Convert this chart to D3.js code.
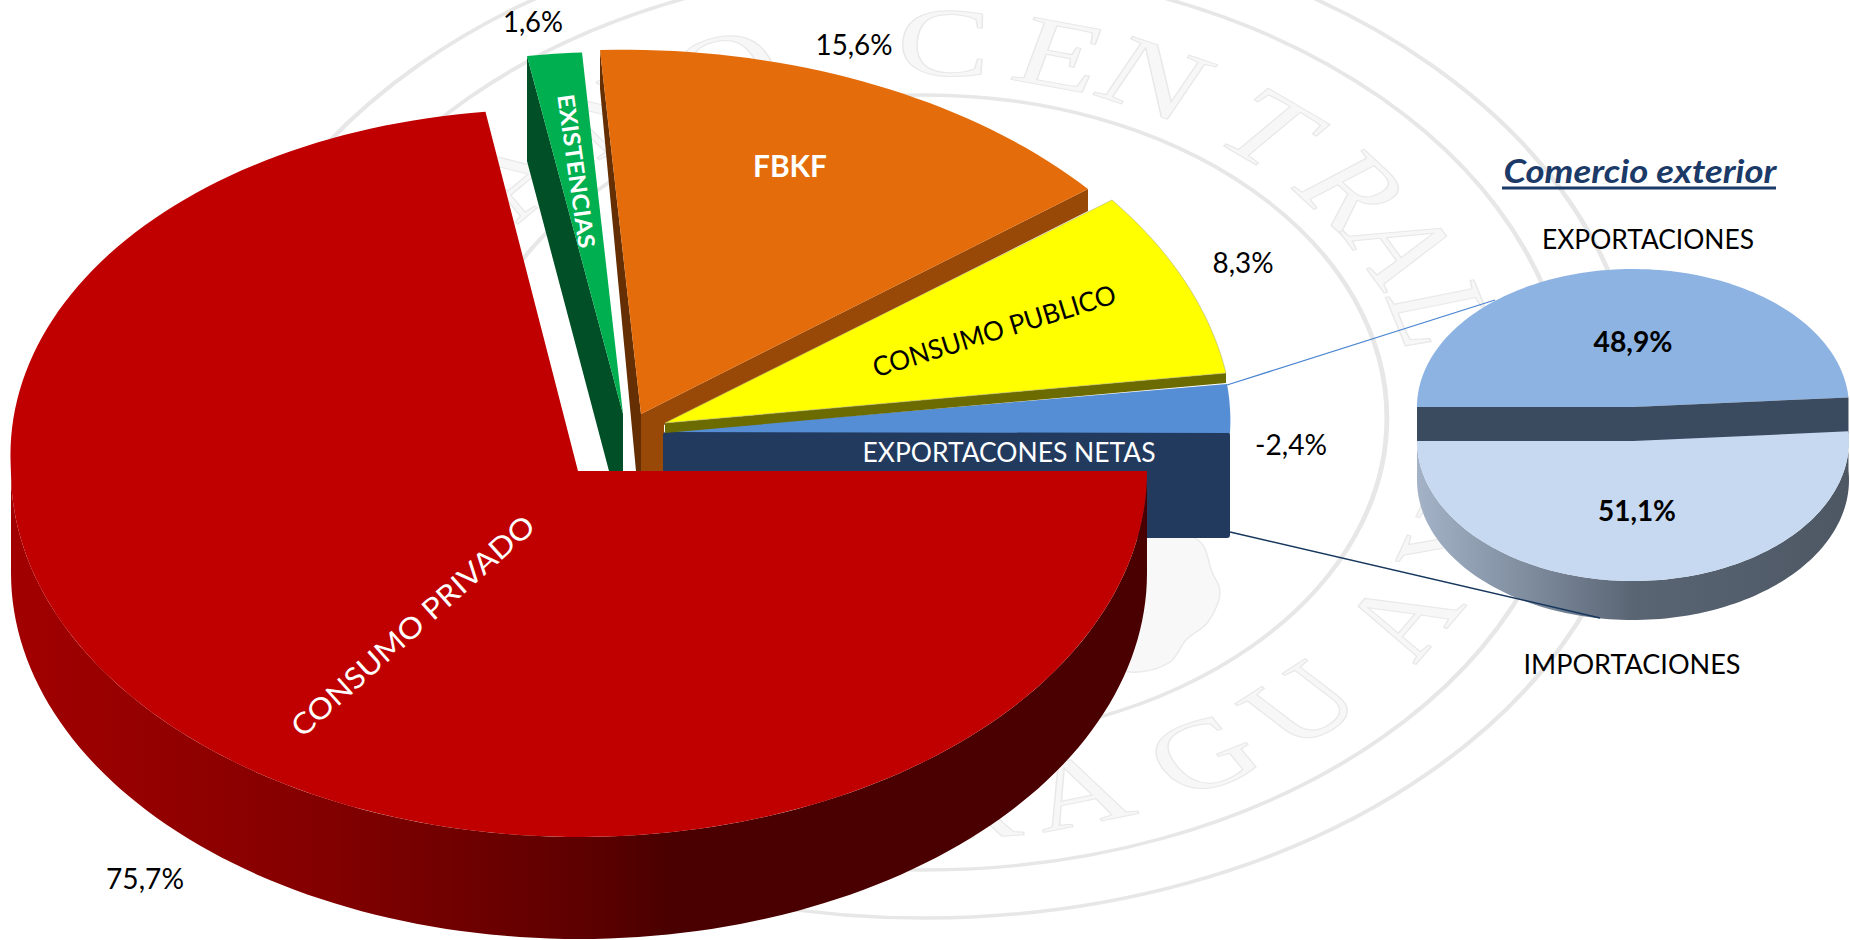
<!DOCTYPE html>
<html lang="es">
<head>
<meta charset="utf-8">
<title>Comercio exterior</title>
<script src="https://cdn.jsdelivr.net/npm/d3@7"></script>
<style>
html,body{margin:0;padding:0;background:#fff;overflow:hidden}
svg{display:block}
text{font-family:Lato,"Open Sans",sans-serif}
</style>
</head>
<body>
<svg id="chart" width="1850" height="940"></svg>
<script>
// ---------- DATA ----------
const categories = ["CONSUMO PRIVADO", "EXISTENCIAS", "FBKF", "CONSUMO PUBLICO", "EXPORTACONES NETAS"];
const shares     = [75.7, 1.6, 15.6, 8.3, -2.4];
const tradeNames  = ["EXPORTACIONES", "IMPORTACIONES"];
const tradeShares = [48.9, 51.1];
const tradeTitle  = "Comercio exterior";
const sealTop    = [["B",-62],["A",-50],["N",-36],["O",-21.6],["C",2],["E",14.6],["N",25.4],["T",40],["R",53],["A",63],["L",74]];
const sealBottom = [["P",-9],["A",-3],["R",5],["A",16],["G",30],["U",42.5],["A",59],["Y",72]];

// ---------- LAYOUT ----------
const svg = d3.select("#chart");
const rad = d => d * Math.PI / 180;
const pct = v => d3.formatLocale({decimal: ",", thousands: ".", grouping: [3], currency: ["", ""], minus: "-"}).format(".1f")(v) + "%";
const line = d3.line();
const defs = svg.append("defs");

function gradient(id, x1, x2, stops) {
  const g = defs.append("linearGradient").attr("id", id).attr("gradientUnits", "userSpaceOnUse")
    .attr("x1", x1).attr("x2", x2).attr("y1", 0).attr("y2", 0);
  stops.forEach(([o, c]) => g.append("stop").attr("offset", o).attr("stop-color", c));
}
gradient("redWall", 12, 1148, [[0, "#a20000"], [0.28, "#820000"], [0.5, "#5e0000"], [0.58, "#4a0000"], [1, "#4a0000"]]);
gradient("tradeWall", 1418, 1850, [[0, "#a3b2c6"], [0.25, "#7f8d9f"], [0.5, "#5a6574"], [1, "#4d5764"]]);

// ---------- SEAL WATERMARK ----------
const seal = svg.append("g").attr("transform", "translate(925,418) scale(1.43,1)");
[323, 452, 500].forEach(r => seal.append("circle").attr("r", r).attr("fill", "none")
  .attr("stroke", "#e7e7e7").attr("stroke-width", 3.4));
function sealLetter(ch, deg, bottom) {
  const a = rad(deg), r = bottom ? 388 : 376;
  const x = r * Math.sin(a), y = bottom ? r * Math.cos(a) : -r * Math.cos(a);
  const rot = bottom ? -deg : deg;
  seal.append("text").attr("transform", `translate(${x},${y}) rotate(${rot})`)
    .attr("text-anchor", "middle").attr("dominant-baseline", "central")
    .style("font-family", "'Liberation Serif',serif").attr("font-size", 98)
    .attr("fill", "#f7f7f7").attr("stroke", "#e8e8e8").attr("stroke-width", 1).text(ch);
}
sealTop.forEach(d => sealLetter(d[0], d[1], false));
sealBottom.forEach(d => sealLetter(d[0], d[1], true));
svg.append("path")
  .attr("d", d3.line().curve(d3.curveCatmullRomClosed)([[1120,536],[1198,540],[1212,572],[1220,592],[1208,622],[1186,640],[1170,662],[1130,672],[1080,650]]))
  .attr("fill", "#f8f8f8").attr("stroke", "#eaeaea").attr("stroke-width", 1.5);

// ---------- MAIN PIE ----------
const mainPie = d3.pie().sort(null).value(d => Math.abs(d)).startAngle(Math.PI / 2).endAngle(Math.PI * 2.5)(shares);

// affine mapping of the unit disc fixed by the apex and the two rim corners of each detached slice
function sliceProjector(d, apex, startTip, endTip) {
  const u = a => [Math.sin(a), -Math.cos(a)];
  const [a1, b1] = u(d.startAngle), [a2, b2] = u(d.endAngle);
  const det = a1 * b2 - a2 * b1;
  const p = [startTip[0] - apex[0], startTip[1] - apex[1]], q = [endTip[0] - apex[0], endTip[1] - apex[1]];
  const m = [(p[0] * b2 - q[0] * b1) / det, (q[0] * a1 - p[0] * a2) / det,
             (p[1] * b2 - q[1] * b1) / det, (q[1] * a1 - p[1] * a2) / det];
  return t => { const [x, y] = u(t); return [apex[0] + m[0] * x + m[1] * y, apex[1] + m[2] * x + m[3] * y]; };
}
function samples(a0, a1) {
  const n = Math.max(6, Math.ceil(Math.abs(a1 - a0) / rad(1.5)));
  return d3.range(n + 1).map(i => a0 + (a1 - a0) * i / n);
}
const face = (d, apex, proj) => line([apex, ...samples(d.startAngle, d.endAngle).map(proj)]) + "Z";
const poly = (pts, fill) => svg.append("path").attr("d", line(pts) + "Z").attr("fill", fill);

const apexes = {green: [623, 414], orange: [641, 414], yellow: [665, 423], blue: [663, 432]};

// EXISTENCIAS
poly([[527, 56], [623, 414], [623, 471], [609, 471], [527, 161]], "#004f27");
svg.append("path").attr("d", face(mainPie[1], apexes.green, sliceProjector(mainPie[1], apexes.green, [527, 56], [582, 52.5]))).attr("fill", "#00b050");

// FBKF
poly([[600, 50], [641, 414], [641, 471], [636, 471], [600, 89]], "#652f03");
poly([[641, 414], [1088, 189], [1088, 211], [664, 425], [664, 471], [641, 471]], "#984807");
svg.append("path").attr("d", face(mainPie[2], apexes.orange, sliceProjector(mainPie[2], apexes.orange, [600, 50], [1088, 189]))).attr("fill", "#e46c0a");

// EXPORTACIONES NETAS
svg.append("rect").attr("x", 663).attr("y", 432).attr("width", 567).attr("height", 106).attr("rx", 3).attr("fill", "#223a5e");
svg.append("path").attr("d", face(mainPie[4], apexes.blue, sliceProjector(mainPie[4], apexes.blue, [1227, 384], [1230, 433]))).attr("fill", "#558ed5");

// CONSUMO PUBLICO
poly([[665, 423], [1226, 373], [1226, 383], [665, 433]], "#6b6b00");
svg.append("path").attr("d", face(mainPie[3], apexes.yellow, sliceProjector(mainPie[3], apexes.yellow, [1112, 200], [1226, 373])))
  .attr("fill", "#ffff00").attr("stroke", "#b4b47a").attr("stroke-width", 0.6);

// CONSUMO PRIVADO
const redApex = [578, 471];
const redProj = t => {
  const s = Math.sin(t), c = Math.cos(t);
  return [579 + 568 * s - 25 * Math.max(c, 0), 471 - (c > 0 ? 362 : 366) * c];
};
const redWallDepth = 102;
const redWallAngles = samples(Math.PI / 2, Math.PI * 1.5);
svg.append("path")
  .attr("d", d3.area().x(t => redProj(t)[0]).y0(t => redProj(t)[1]).y1(t => redProj(t)[1] + redWallDepth)(redWallAngles))
  .attr("fill", "url(#redWall)");
svg.append("path").attr("d", face(mainPie[0], redApex, redProj)).attr("fill", "#c00000");

// ---------- TRADE PIE ----------
const tradePie = d3.pie().sort(null).startAngle(-Math.PI / 2).endAngle(Math.PI * 1.5)(tradeShares);
const expApex = [1633, 407], impApex = [1633, 441];
const expProj = t => [expApex[0] + 216 * Math.sin(t), expApex[1] - 138 * Math.cos(t)];
const impProj = t => [impApex[0] + 216 * Math.sin(t), impApex[1] - 140 * Math.cos(t)];
const tradeDepth = 39, bandDepth = 35;
svg.append("path")
  .attr("d", d3.area().x(t => impProj(t)[0]).y0(t => impProj(t)[1]).y1(t => impProj(t)[1] + tradeDepth)(samples(tradePie[1].startAngle, tradePie[1].endAngle)))
  .attr("fill", "url(#tradeWall)");
svg.append("path").attr("d", face(tradePie[0], expApex, expProj)).attr("fill", "#8db3e2");
const bandPts = [expProj(tradePie[0].startAngle), expApex, expProj(tradePie[0].endAngle)];
svg.append("path").attr("d", d3.area().x(p => p[0]).y0(p => p[1]).y1(p => p[1] + bandDepth + 1)(bandPts)).attr("fill", "#3a4a5f");
svg.append("path").attr("d", face(tradePie[1], impApex, impProj)).attr("fill", "#c6d9f1");

// ---------- CONNECTORS ----------
svg.append("line").attr("x1", 1227).attr("y1", 385).attr("x2", 1495).attr("y2", 300).attr("stroke", "#4a86d0").attr("stroke-width", 1.3);
svg.append("line").attr("x1", 1230).attr("y1", 532).attr("x2", 1600).attr("y2", 618).attr("stroke", "#17375e").attr("stroke-width", 1.5);

// ---------- LABELS ----------
function label(str, x, y, size, width, opts = {}) {
  const t = svg.append("text").text(str).attr("font-size", size).attr("fill", opts.fill || "#000")
    .attr("text-anchor", "middle").attr("textLength", width).attr("lengthAdjust", "spacingAndGlyphs");
  if (opts.rotate !== undefined) {
    t.attr("transform", `translate(${x},${y}) rotate(${opts.rotate})`).attr("dominant-baseline", "central");
  } else {
    t.attr("x", x).attr("y", y);
  }
  if (opts.bold) t.attr("font-weight", 700);
  if (opts.italic) t.attr("font-style", "italic");
  return t;
}
// percentages
label(pct(shares[0]), 145, 889, 28, 78);
label(pct(shares[1]), 533, 32, 28, 60);
label(pct(shares[2]), 854, 55, 28, 77);
label(pct(shares[3]), 1243, 273, 28, 61);
label(pct(shares[4]), 1291, 455, 28, 72);
// categories
label(categories[0], 412, 625, 29, 315, {fill: "#fff", rotate: -41.8});
label(categories[1], 577, 171, 23, 155, {fill: "#fff", bold: true, rotate: 82});
label(categories[2], 790, 177, 30, 74, {fill: "#fff", bold: true});
label(categories[3], 994, 330, 27, 253, {rotate: -17.2});
label(categories[4], 1009, 462, 27, 293, {fill: "#fff"});
// trade pie
label(tradeTitle, 1640, 183, 33, 273, {fill: "#1b3a68", bold: true, italic: true});
svg.append("line").attr("x1", 1502).attr("x2", 1776).attr("y1", 188).attr("y2", 188).attr("stroke", "#1b3a68").attr("stroke-width", 3);
label(tradeNames[0], 1648, 249, 27, 212);
label(tradeNames[1], 1632, 674, 27, 217);
label(pct(tradeShares[0]), 1633, 352, 28, 79, {bold: true});
label(pct(tradeShares[1]), 1637, 521, 28, 78, {bold: true});
</script>
</body>
</html>
